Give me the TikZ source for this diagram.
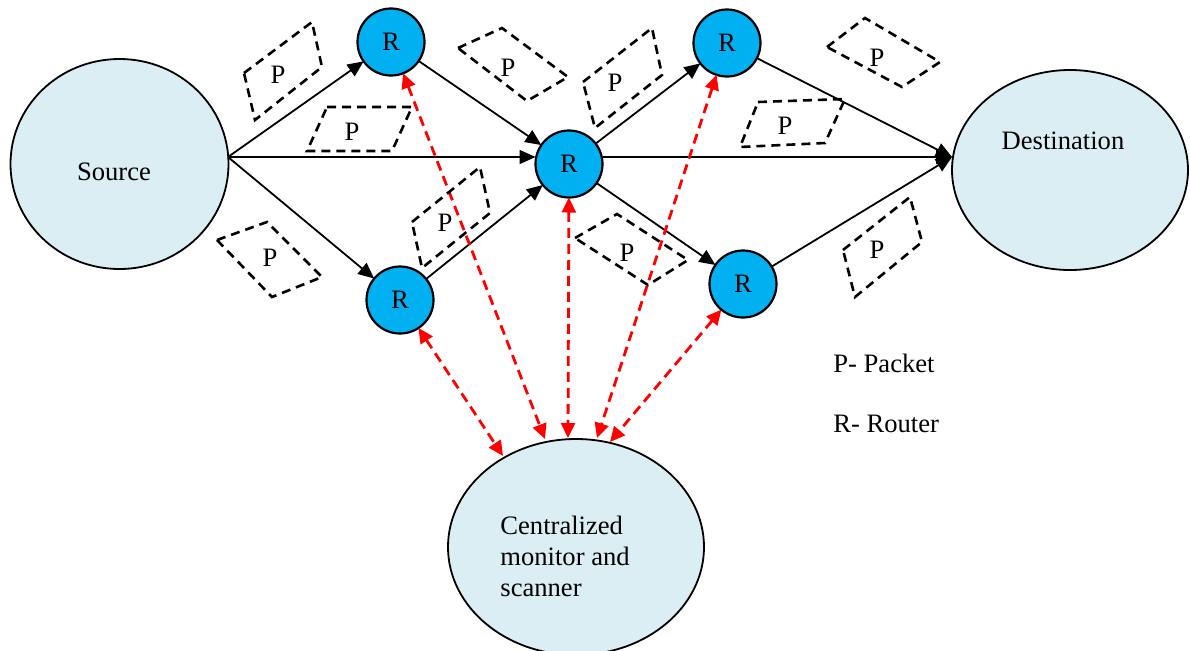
\documentclass[tikz,border=0pt]{standalone}
\usepackage{fontspec}
\setmainfont{Liberation Serif}
\usetikzlibrary{shapes.geometric,arrows.meta}
\definecolor{routerblue}{RGB}{0,176,240}
\definecolor{paleblue}{RGB}{218,238,243}
\begin{document}
\begin{tikzpicture}[x=0.5pt,y=-0.5pt,
  font=\fontsize{13.3}{15.5}\selectfont,
  bigell/.style={ellipse,draw,line width=0.9pt,fill=paleblue,inner sep=0pt,outer sep=0pt},
  router/.style={circle,draw,line width=1.1pt,fill=routerblue,minimum size=33.5pt,inner sep=0pt,outer sep=0pt},
  flow/.style={line width=0.9pt,-{Triangle[length=8pt,width=7pt]}},
  ctrl/.style={red,line width=1.4pt,dash pattern=on 5pt off 3pt,{Triangle[length=7.5pt,width=7pt]}-{Triangle[length=7.5pt,width=7pt]}},
  packet/.style={draw,line width=1.3pt,dash pattern=on 4.5pt off 3pt},
  txt/.style={inner sep=0pt}]
\useasboundingbox (0,0) rectangle (1190,650);

% big ellipses
\node[bigell,minimum width=109pt,minimum height=105pt] (src) at (119.5,164) {};
\node[bigell,minimum width=118pt,minimum height=100pt] (dst) at (1070,170) {};
\node[bigell,minimum width=128pt,minimum height=108pt] (mon) at (576,547) {};
\node[txt] (srctxt) at (114,172) {Source};
\node[txt] (dsttxt) at (1063,141) {Destination};
\node[txt,anchor=west,align=left] (montxt) at (500,556) {Centralized\\monitor and\\scanner};

% routers
\node[router] (R1) at (391,42) {R};
\node[router] (C) at (569,164) {R};
\node[router] (TR) at (727,43) {R};
\node[router] (R3) at (400,300) {R};
\node[router] (BR) at (743,284) {R};

% connection points
\coordinate (sa) at (228,157);
\coordinate (din) at (952,157);
\coordinate (m1) at (503,456);
\coordinate (m2) at (545,439);
\coordinate (m3) at (568,438);
\coordinate (m4) at (597,438);
\coordinate (m5) at (610,442);

% data flow
\draw[flow] (sa) -- (R1);
\draw[flow] (sa) -- (sa -| C.west);
\draw[flow] (sa) -- (R3);
\draw[flow] (R1) -- (C);
\draw[flow] (R3) -- (C);
\draw[flow] (C) -- (TR);
\draw[flow] (C) -- (BR);
\draw[flow] (din -| C.east) -- (din);
\draw[flow] (TR) -- (din);
\draw[flow] (BR) -- (din);

% monitoring
\draw[ctrl] (R3) -- (m1);
\draw[ctrl] (R1) -- (m2);
\draw[ctrl] (C) -- (m3);
\draw[ctrl] (TR) -- (m4);
\draw[ctrl] (BR) -- (m5);

% packets
\draw[packet] (244,73) -- (312,22) -- (322,67) -- (255,120) -- cycle;
\node[txt] (p1) at (278,75) {P};
\draw[packet] (327,107) -- (412,107) -- (392,151) -- (307,151) -- cycle;
\node[txt] (p2) at (352,132) {P};
\draw[packet] (458,48) -- (502,28) -- (568,77) -- (527,101) -- cycle;
\node[txt] (p3) at (508,68) {P};
\draw[packet] (583,82) -- (652,28) -- (662,75) -- (595,128) -- cycle;
\node[txt] (p4) at (615,83) {P};
\draw[packet] (827,47) -- (865,18) -- (940,62) -- (902,87) -- cycle;
\node[txt] (p5) at (877,58) {P};
\draw[packet] (758,102) -- (845,99) -- (825,143) -- (740,147) -- cycle;
\node[txt] (p6) at (785,126) {P};
\draw[packet] (412,222) -- (480,167) -- (490,213) -- (422,268) -- cycle;
\node[txt] (p7) at (445,223) {P};
\draw[packet] (217,240) -- (267,222) -- (322,277) -- (272,297) -- cycle;
\node[txt] (p8) at (270,258) {P};
\draw[packet] (575,238) -- (617,214) -- (688,260) -- (648,285) -- cycle;
\node[txt] (p9) at (627,253) {P};
\draw[packet] (843,250) -- (910,197) -- (922,242) -- (855,297) -- cycle;
\node[txt] (p10) at (877,250) {P};

% legend
\node[txt,anchor=west] (legP) at (833,363) {P- Packet};
\node[txt,anchor=west] (legR) at (833,424) {R- Router};
\end{tikzpicture}
\end{document}
